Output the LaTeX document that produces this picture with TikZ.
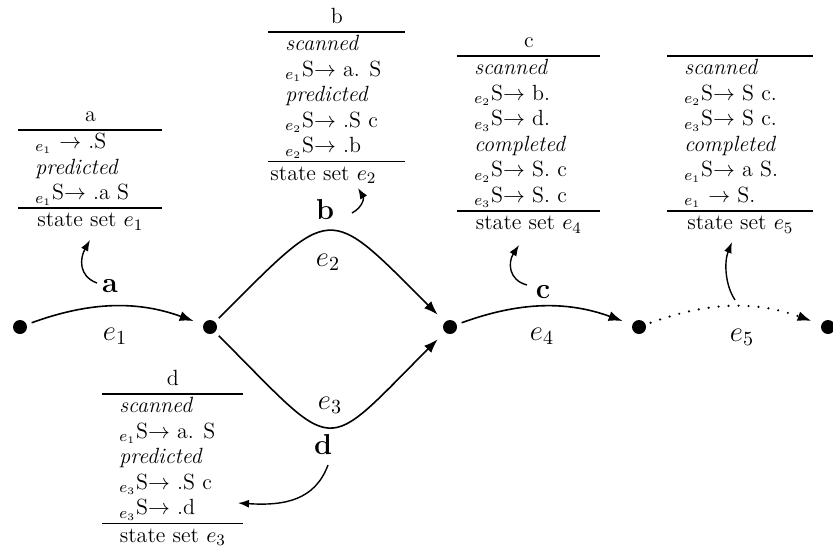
\documentclass[tikz,border=0pt]{standalone}
\usepackage{array}
\usetikzlibrary{arrows.meta}
\newcolumntype{B}[1]{@{}>{\hspace*{8.5pt}}p{#1}@{}}
\newcommand\ctr[1]{\multicolumn{1}{@{}c@{}}{#1}}
\newcommand\sube[1]{${}_{e_{#1}}$}
\newcommand\rarr{$\rightarrow$}
\renewcommand\arraystretch{1.067}
\setlength\arrayrulewidth{0.8pt}
\tikzset{
  dot/.style={circle,fill,inner sep=0pt,minimum size=7pt},
  edge/.style={line width=0.8pt,-{Latex[length=7pt,width=5pt]},shorten >=5pt,shorten <=2.5pt},
  dotline/.style={dash pattern=on 0pt off 5pt,line cap=round,line width=1.2pt},
  ptr/.style={line width=0.7pt,-{Latex[length=5.5pt,width=4pt]}},
  elab/.style={font=\Large},
  blab/.style={font=\Large\bfseries},
  sbox/.style={inner sep=0pt,anchor=north west,font=\fontsize{11}{12}\selectfont},
}
\begin{document}
\begin{tikzpicture}[x=0.5pt,y=-0.5pt]
\useasboundingbox (0,0) rectangle (833,546);
% state sets
\node[sbox] (boxa) at (18,103) {\begin{tabular}{B{72pt}}
\ctr{a}\\ \hline
\sube{1}\ \rarr\ .S\\
\textit{predicted}\\
\sube{1}S\rarr\ .a S\\ \hline
\ctr{state set $e_1$}
\end{tabular}};
\node[sbox] (boxb) at (268,5) {\begin{tabular}{B{68.5pt}}
\ctr{b}\\ \hline
\textit{scanned}\\
\sube{1}S\rarr\ a. S\\
\textit{predicted}\\
\sube{2}S\rarr\ .S c\\
\sube{2}S\rarr\ .b\\ \hline
\multicolumn{1}{@{}l@{}}{\hspace*{1pt}state set $e_2$}
\end{tabular}};
\node[sbox] (boxc) at (457,29) {\begin{tabular}{B{71.5pt}}
\ctr{c}\\ \hline
\textit{scanned}\\
\sube{2}S\rarr\ b.\\
\sube{3}S\rarr\ d.\\
\textit{completed}\\
\sube{2}S\rarr\ S. c\\
\sube{3}S\rarr\ S. c\\ \hline
\ctr{state set $e_4$}
\end{tabular}};
\node[sbox] (boxe) at (667,29) {\begin{tabular}{B{73pt}}
\ctr{\strut}\\ \hline
\textit{scanned}\\
\sube{2}S\rarr\ S c.\\
\sube{3}S\rarr\ S c.\\
\textit{completed}\\
\sube{1}S\rarr\ a S.\\
\sube{1}\ \rarr\ S.\\ \hline
\ctr{state set $e_5$}
\end{tabular}};
\node[sbox] (boxd) at (102,367) {\begin{tabular}{B{70.5pt}}
\ctr{d}\\ \hline
\textit{scanned}\\
\sube{1}S\rarr\ a. S\\
\textit{predicted}\\
\sube{3}S\rarr\ .S c\\
\sube{3}S\rarr\ .d\\ \hline
\ctr{state set $e_3$}
\end{tabular}};
% dots
\node[dot] (d1) at (20,327) {};
\node[dot] (d2) at (210,327) {};
\node[dot] (d3) at (450,327) {};
\node[dot] (d4) at (639,327) {};
\node[dot] (d5) at (828,327) {};
% edges
\draw[edge] (d1) to[bend left=20] (d2);
\draw[edge] (d2) to[out=45,in=135,distance=84pt] (d3);
\draw[edge] (d2) to[out=-45,in=-135,distance=88pt] (d3);
\draw[edge] (d3) to[bend left=20] (d4);
\draw[edge,dotline] (d4) to[bend left=20] (d5);
% edge labels
\node[elab] (le1) at (115,336) {$e_1$};
\node[elab] (le2) at (328,262) {$e_2$};
\node[elab] (le3) at (330,405) {$e_3$};
\node[elab] (le4) at (542,336) {$e_4$};
\node[elab] (le5) at (742,337) {$e_5$};
% bold labels
\node[blab] (la) at (110,286) {a};
\node[blab] (lb) at (325,210) {b};
\node[blab] (lc) at (543,292) {c};
\node[blab] (ld) at (323,445) {d};
% pointer arrows
\coordinate (pa0) at (97,283); \coordinate (pa1) at (90,240);
\coordinate (pb0) at (352,213); \coordinate (pb1) at (358,188);
\coordinate (pc0) at (527,285); \coordinate (pc1) at (519,245);
\coordinate (pe0) at (735,300); \coordinate (pe1) at (732,242);
\coordinate (pd0) at (328,465); \coordinate (pd1) at (238,503);
\draw[ptr] (pa0) .. controls (78,276) and (80,258) .. (pa1);
\draw[ptr] (pb0) .. controls (363,207) and (364,198) .. (pb1);
\draw[ptr] (pc0) .. controls (508,280) and (508,262) .. (pc1);
\draw[ptr] (pe0) .. controls (725,285) and (724,262) .. (pe1);
\draw[ptr] (pd0) .. controls (315,500) and (285,506) .. (pd1);
\end{tikzpicture}
\end{document}
